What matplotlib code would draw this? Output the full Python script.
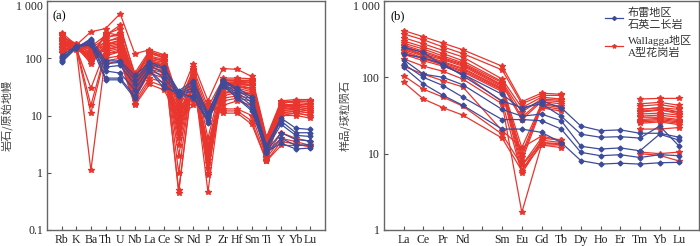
import numpy as np
import matplotlib
matplotlib.use("Agg")
import matplotlib.pyplot as plt
from matplotlib.font_manager import FontProperties

nan = np.nan

# ---- (a) primitive-mantle normalised spider diagram ----
spider_elems = ["Rb", "K", "Ba", "Th", "U", "Nb", "La", "Ce", "Sr", "Nd", "P",
                "Zr", "Hf", "Sm", "Ti", "Y", "Yb", "Lu"]

spider_red = [
    [280, 170, 290, 330, 600, 120, 140, 115, 19, 80, 18, 66, 64, 48, 4.2, 18, 19, 19],
    [250, 160, 160, 250, 380, 50, 120, 105, 5, 60, 3, 40, 40, 42, 3.8, 16, 18, 17],
    [230, 175, 120, 240, 250, 45, 110, 95, 0.45, 55, 0.46, 38, 38, 38, 3.5, 15, 16, 15],
    [220, 165, 110, 200, 220, 40, 100, 90, 0.5, 50, 1.0, 36, 37, 35, 3.0, 14, 15, 14],
    [210, 160, 100, 180, 200, 38, 95, 85, 2, 48, 1.5, 35, 35, 33, 2.5, 13, 14, 13],
    [200, 170, 90, 170, 190, 35, 90, 80, 3, 45, 2, 33, 34, 30, 2.2, 12, 13, 12],
    [190, 155, 85, 160, 180, 33, 85, 75, 4, 42, 2.5, 30, 32, 28, 2.0, 11, 12, 11],
    [180, 165, 80, 150, 170, 30, 80, 70, 5, 40, 3, 28, 30, 26, 1.8, 10, 11, 10],
    [170, 150, 30, 140, 160, 28, 75, 65, 6, 38, 1.2, 25, 28, 24, 1.7, 14, 13, 12],
    [160, 160, 15, 130, 150, 26, 70, 60, 8, 35, 2.2, 22, 25, 22, 1.6, 15, 14, 13],
    [150, 150, 11, 120, 140, 24, 65, 55, 10, 32, 1.7, 20, 22, 20, 1.9, 12, 12, 11],
    [140, 145, 1.1, 110, 130, 22, 60, 50, 12, 30, 2.8, 18, 20, 18, 2.4, 10, 10, 9],
    [200, 155, 150, 220, 280, 42, 130, 110, 15, 65, 14, 42, 42, 40, 3.2, 17, 17, 16],
    [190, 170, 140, 190, 240, 35, 105, 90, 18, 55, 12, 35, 36, 34, 2.8, 15, 15, 14],
    [170, 165, 130, 170, 210, 30, 90, 75, 16, 50, 10, 30, 32, 30, 2.6, 13, 13, 12],
    [160, 150, 120, 140, 160, 25, 70, 60, 14, 40, 9, 25, 25, 24, 2.3, 11, 11, 10],
    [150, 140, 110, 120, 130, 20, 55, 45, 13, 30, 11, 15, 18, 15, 2.0, 5, 4, 3.5],
    [140, 160, 170, 100, 110, 18, 45, 38, 11, 22, 13, 13, 13, 10, 1.8, 4, 3.5, 3],
    [130, 155, 180, 90, 100, 16, 40, 32, 20, 18, 15, 12, 12, 8, 1.6, 3.5, 3.2, 2.8],
    [125, 145, 160, 80, 90, 15, 35, 28, 9, 15, 16, 11, 11, 7, 1.6, 3, 3, 3],
    [240, 180, 100, 260, 330, 55, 135, 100, 7, 70, 4, 45, 45, 44, 4.0, 17, 18, 18],
    [260, 150, 95, 280, 250, 48, 125, 100, 1.0, 62, 0.9, 42, 40, 38, 3.4, 16, 15, 16],
]

spider_blue = [
    [85, 150, 220, 90, 90, 50, 85, 70, 27, 40, 11, 42, 30, 21, 3.0, 9, 6, 5.7],
    [90, 160, 200, 80, 85, 42, 80, 65, 25, 35, 10, 40, 28, 19, 2.8, 8, 5, 5],
    [100, 155, 190, 70, 75, 35, 75, 55, 24, 30, 9, 37, 25, 17, 2.6, 7, 4.5, 4.3],
    [110, 165, 180, 60, 55, 28, 68, 45, 23, 27, 8, 35, 23, 15, 2.4, 5, 3.8, 3.6],
    [105, 150, 210, 45, 45, 22, 62, 35, 22, 22, 7.5, 33, 21, 13, 2.2, 4, 3, 3.1],
    [95, 160, 170, 42, 42, 20, 60, 30, 26, 20, 8.5, 34, 20, 12, 2.3, 3.3, 2.6, 2.7],
]

# ---- (b) chondrite-normalised REE (blank slot = Pm) ----
ree_elems = ["La", "Ce", "Pr", "Nd", "", "Sm", "Eu", "Gd", "Tb", "Dy", "Ho",
             "Er", "Tm", "Yb", "Lu"]

ree_red = [
    [410, 340, 280, 230, nan, 140, 48, 62, 60, nan, nan, nan, 52, 53, 53],
    [370, 310, 250, 205, nan, 125, 45, 58, 58, nan, nan, nan, 45, 47, 43],
    [330, 275, 225, 185, nan, 95, 40, 55, 52, nan, nan, nan, 42, 44, 40],
    [300, 250, 205, 165, nan, 88, 35, 52, 50, nan, nan, nan, 38, 40, 38],
    [280, 235, 190, 155, nan, 85, 30, 50, 48, nan, nan, nan, 35, 37, 35],
    [265, 220, 180, 150, nan, 80, 28, 48, 45, nan, nan, nan, 33, 34, 32],
    [255, 210, 175, 145, nan, 78, 12, 45, 42, nan, nan, nan, 31, 32, 30],
    [245, 200, 170, 140, nan, 75, 10, 44, 40, nan, nan, nan, 30, 30, 28],
    [240, 195, 160, 132, nan, 72, 9, 42, 38, nan, nan, nan, 28, 29, 27],
    [230, 190, 155, 128, nan, 70, 8, 40, 36, nan, nan, nan, 27, 28, 26],
    [220, 180, 150, 122, nan, 68, 7, 16, 15, nan, nan, nan, 26, 27, 25],
    [210, 175, 145, 118, nan, 65, 6, 15, 14, nan, nan, nan, 25, 26, 24],
    [200, 165, 140, 112, nan, 48, 5.5, 14, 13.5, nan, nan, nan, 21, 21, 22],
    [175, 140, 120, 95, nan, 45, 1.7, 13, 13, nan, nan, nan, 10.5, 10, 10.5],
    [140, 110, 90, 75, nan, 20, 12, 17, 15, nan, nan, nan, 10, 9.5, 8],
    [105, 70, 55, 42, nan, 18, 7, 14, 13, nan, nan, nan, 38, 40, 35],
    [86, 52, 40, 32, nan, 16, 6, 13, 12, nan, nan, nan, 36, 38, 33],
]

ree_blue = [
    [247, 213, 142, 110, nan, 60, 38, 49, 40, 23, 20, 20.5, 18.5, 18.5, 16.4],
    [200, 180, 150, 105, nan, 49, 40, 45, 31, 18, 16.4, 16.7, 16, 23, 12.5],
    [170, 110, 100, 80, nan, 38, 31, 33, 27, 12.5, 11.5, 11.9, 10.9, 18, 15],
    [150, 100, 78, 55, nan, 28, 28, 27, 21, 10.4, 9.4, 9.7, 8.9, 9.7, 9.4],
    [135, 82, 58, 43, nan, 21, 21, 19, 14, 8.1, 7.3, 7.5, 7.3, 7.6, 7.7],
]

RED = "#e8352e"
BLUE = "#3d4b9a"
serif = "Liberation Serif"
cjk = ["Liberation Serif", "Noto Sans CJK SC"]

fig = plt.figure(figsize=(7.0, 2.46), dpi=100)
ax1 = fig.add_axes([47 / 700, 16 / 246, 278 / 700, 229 / 246])
ax2 = fig.add_axes([384 / 700, 16 / 246, 315 / 700, 229 / 246])

red_style = dict(color=RED, lw=0.9, marker="*", ms=4, mec=RED, mfc=RED)
blue_style = dict(color=BLUE, lw=0.9, marker="D", ms=2.5, mec=BLUE, mfc=BLUE)

x = np.arange(len(spider_elems))
for r in spider_red:
    ax1.plot(x, r, **red_style)
for r in spider_blue:
    ax1.plot(x, r, **blue_style)

# red REE lines break over Dy-Er; the Pm slot is skipped by all lines
xr = np.arange(len(ree_elems))
left = [0, 1, 2, 3, 5, 6, 7, 8]
right = [12, 13, 14]
for r in ree_red:
    y = np.array(r, dtype=float)
    ax2.plot(xr[left], y[left], **red_style)
    ax2.plot(xr[right], y[right], **red_style)
for r in ree_blue:
    y = np.array(r, dtype=float)
    ok = ~np.isnan(y)
    ax2.plot(xr[ok], y[ok], **blue_style)

for ax, labels, lo, tks, tls in [
    (ax1, spider_elems, 0.1, [0.1, 1, 10, 100, 1000], ["0.1", "1", "10", "100", "1 000"]),
    (ax2, ree_elems, 1, [1, 10, 100, 1000], ["1", "10", "100", "1 000"]),
]:
    ax.set_yscale("log")
    ax.set_ylim(lo, 1000)
    ax.set_xlim(-1, len(labels))
    ax.set_yticks(tks)
    ax.set_yticklabels(tls, fontfamily=serif, fontsize=8.5)
    ax.yaxis.set_minor_locator(matplotlib.ticker.NullLocator())
    ax.set_xticks(np.arange(len(labels)))
    ax.set_xticklabels(labels, fontfamily=serif, fontsize=8.5)
    ax.tick_params(direction="in", length=3, width=0.8, colors="#555555",
                   labelcolor="#222222", pad=3)
    # keep the top label inside the figure
    ax.get_yticklabels()[-1].set_verticalalignment("top")
    for s in ax.spines.values():
        s.set_color("#666666")
        s.set_linewidth(1.0)

ax1.text(0.02, 0.96, "(a)", transform=ax1.transAxes, fontfamily=serif,
         fontsize=9, va="top", ha="left")
ax2.text(0.02, 0.96, "(b)", transform=ax2.transAxes, fontfamily=serif,
         fontsize=9, va="top", ha="left")

ax1.set_ylabel("岩石/原始地幔", fontfamily="Noto Sans CJK SC", fontsize=8,
               color="#444444", labelpad=2)
ax2.set_ylabel("样品/球粒陨石", fontfamily="Noto Sans CJK SC", fontsize=8,
               color="#444444", labelpad=2)

h1, = ax2.plot([], [], color=BLUE, lw=0.9, marker="D", ms=2)
h2, = ax2.plot([], [], color=RED, lw=0.9, marker="*", ms=3)
leg = ax2.legend([h1, h2], ["布雷地区\n石英二长岩", "Wallagga地区\nA型花岗岩"],
                 loc="upper right", frameon=False, handlelength=1.6,
                 handletextpad=0.5, labelspacing=0.5, borderaxespad=0.2,
                 prop=FontProperties(family=cjk, size=8))
for t in leg.get_texts():
    t.set_color("#333333")

fig.savefig("out.png", dpi=100)
